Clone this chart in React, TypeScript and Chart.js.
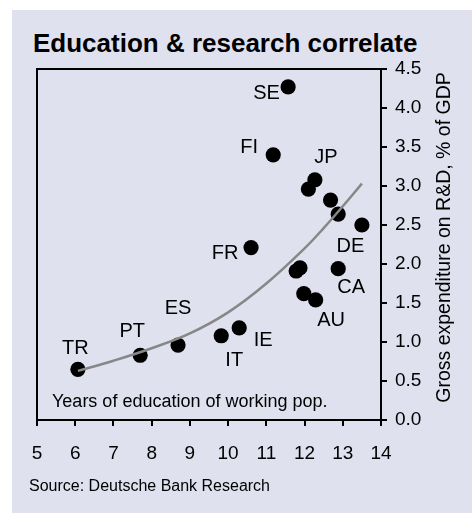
import React, { useEffect, useRef } from "react";
import { Chart, registerables } from "chart.js";

Chart.register(...registerables);

// ---- Data ----
const countries = ["SE", "FI", "JP", "", "", "", "DE", "FR", "", "", "CA", "", "AU", "IE", "IT", "ES", "PT", "TR"];
const educationYears = [11.57, 11.18, 12.27, 12.10, 12.68, 12.88, 13.50, 10.60, 11.78, 11.88, 12.88, 11.98, 12.29, 10.29, 9.82, 8.69, 7.70, 6.07];
const rdSpending = [4.27, 3.40, 3.08, 2.96, 2.82, 2.64, 2.50, 2.21, 1.91, 1.95, 1.94, 1.62, 1.54, 1.18, 1.08, 0.96, 0.83, 0.65];
const trendYears = [6.07, 7, 8, 9, 10, 11, 12, 12.5, 13, 13.5];
const trendValues = [0.63, 0.76, 0.92, 1.11, 1.38, 1.75, 2.20, 2.46, 2.74, 3.03];
const xTickValues = [5, 6, 7, 8, 9, 10, 11, 12, 13, 14];
const yTickValues = [0, 0.5, 1, 1.5, 2, 2.5, 3, 3.5, 4, 4.5];

const titleText = "Education & research correlate";
const xAxisText = "Years of education of working pop.";
const yAxisText = "Gross expenditure on R&D, % of GDP";
const sourceText = "Source: Deutsche Bank Research";

// ---- Styling: label offsets in pixels from their point ----
const labelOffsets: Record<string, [number, number]> = {
  SE: [-21.6, 5],
  FI: [-24, -9],
  JP: [11, -24],
  DE: [-11.5, 20],
  FR: [-26, 4.5],
  CA: [13, 17],
  AU: [15.5, 19],
  IE: [24, 11],
  IT: [13, 23],
  ES: [0, -38],
  PT: [-8, -25],
  TR: [-2.5, -23],
};

const FONT = "Arial, 'Liberation Sans', Helvetica, sans-serif";
const BG = "rgb(224,225,239)";

const annotate = {
  id: "annotate",
  beforeDatasetsDraw(chart: any) {
    const { ctx, chartArea } = chart;
    ctx.save();
    ctx.strokeStyle = "#000";
    ctx.lineWidth = 2;
    ctx.beginPath();
    ctx.moveTo(chartArea.left, chartArea.bottom);
    ctx.lineTo(chartArea.left, chartArea.top);
    ctx.lineTo(chartArea.right, chartArea.top);
    ctx.stroke();
    ctx.restore();
  },
  afterDatasetsDraw(chart: any) {
    const { ctx, chartArea } = chart;
    ctx.save();
    ctx.fillStyle = "#000";
    // country labels
    ctx.font = `20px ${FONT}`;
    ctx.textAlign = "center";
    ctx.textBaseline = "alphabetic";
    const meta = chart.getDatasetMeta(1);
    countries.forEach((c, i) => {
      if (!c) return;
      const el = meta.data[i];
      const off = labelOffsets[c] || [0, 0];
      ctx.fillText(c, el.x + off[0], el.y + off[1] + 7.2);
    });
    // x descriptor inside plot
    ctx.font = `18px ${FONT}`;
    ctx.textAlign = "left";
    ctx.fillText(xAxisText, chartArea.left + 15, chartArea.bottom - 13.5);
    // y axis title (rotated)
    ctx.font = `19.5px ${FONT}`;
    ctx.textAlign = "center";
    ctx.translate(chartArea.right + 69, chartArea.top + 168.5);
    ctx.rotate(-Math.PI / 2);
    ctx.fillText(yAxisText, 0, 0);
    ctx.restore();
  },
};

export default function App() {
  const canvasRef = useRef<HTMLCanvasElement | null>(null);

  useEffect(() => {
    document.body.style.margin = "0";
    const canvas = canvasRef.current;
    if (!canvas) return;
    const chart = new Chart(canvas, {
      type: "scatter",
      data: {
        datasets: [
          {
            type: "line",
            data: trendYears.map((x, i) => ({ x, y: trendValues[i] })),
            borderColor: "rgb(135,135,135)",
            borderWidth: 2.5,
            pointRadius: 0,
            fill: false,
            tension: 0.4,
            order: 0,
          } as any,
          {
            type: "scatter",
            data: educationYears.map((x, i) => ({ x, y: rdSpending[i] })),
            backgroundColor: "#000",
            borderWidth: 0,
            pointRadius: 7.6,
            pointHoverRadius: 7.6,
            order: 1,
          },
        ],
      },
      options: {
        responsive: false,
        animation: false,
        devicePixelRatio: 1,
        layout: { padding: { left: 37, top: 69, right: 0, bottom: 0 } },
        plugins: {
          legend: { display: false },
          tooltip: { enabled: false },
          title: { display: false },
        },
        scales: {
          x: {
            type: "linear",
            position: "bottom",
            min: 5,
            max: 14,
            afterBuildTicks: (scale: any) => {
              scale.ticks = xTickValues.map((v) => ({ value: v }));
            },
            afterFit: (scale: any) => {
              scale.height = 93;
            },
            ticks: {
              color: "#000",
              font: { family: FONT, size: 19 },
              padding: 16,
              maxRotation: 0,
              autoSkip: false,
            },
            grid: {
              drawOnChartArea: false,
              drawTicks: true,
              tickLength: 6,
              color: "#000",
              lineWidth: 2,
            },
            border: { display: true, color: "#000", width: 2 },
          },
          y: {
            type: "linear",
            position: "right",
            min: 0,
            max: 4.5,
            afterBuildTicks: (scale: any) => {
              scale.ticks = yTickValues.map((v) => ({ value: v }));
            },
            afterFit: (scale: any) => {
              scale.width = 91;
            },
            ticks: {
              color: "#000",
              font: { family: FONT, size: 19 },
              padding: 8,
              autoSkip: false,
              callback: (v: any) => Number(v).toFixed(1),
            },
            grid: {
              drawOnChartArea: false,
              drawTicks: true,
              tickLength: 6,
              color: "#000",
              lineWidth: 2,
            },
            border: { display: true, color: "#000", width: 2 },
          },
        },
      },
      plugins: [annotate],
    });
    return () => chart.destroy();
  }, []);

  return (
    <div style={{ position: "absolute", left: 0, top: 0, width: 472, height: 513, background: "#fff", overflow: "hidden" }}>
      <div style={{ position: "absolute", left: 12, top: 10, width: 460, height: 503, background: BG }} />
      <div
        style={{
          position: "absolute",
          left: 33,
          top: 30,
          font: `bold 26px/26px ${FONT}`,
          color: "#000",
          whiteSpace: "nowrap",
        }}
      >
        {titleText}
      </div>
      <canvas ref={canvasRef} width={472} height={513} style={{ position: "absolute", left: 0, top: 0, width: 472, height: 513 }} />
      <div
        style={{
          position: "absolute",
          left: 29,
          top: 477.5,
          font: `16px/16px ${FONT}`,
          color: "#000",
          whiteSpace: "nowrap",
        }}
      >
        {sourceText}
      </div>
    </div>
  );
}
